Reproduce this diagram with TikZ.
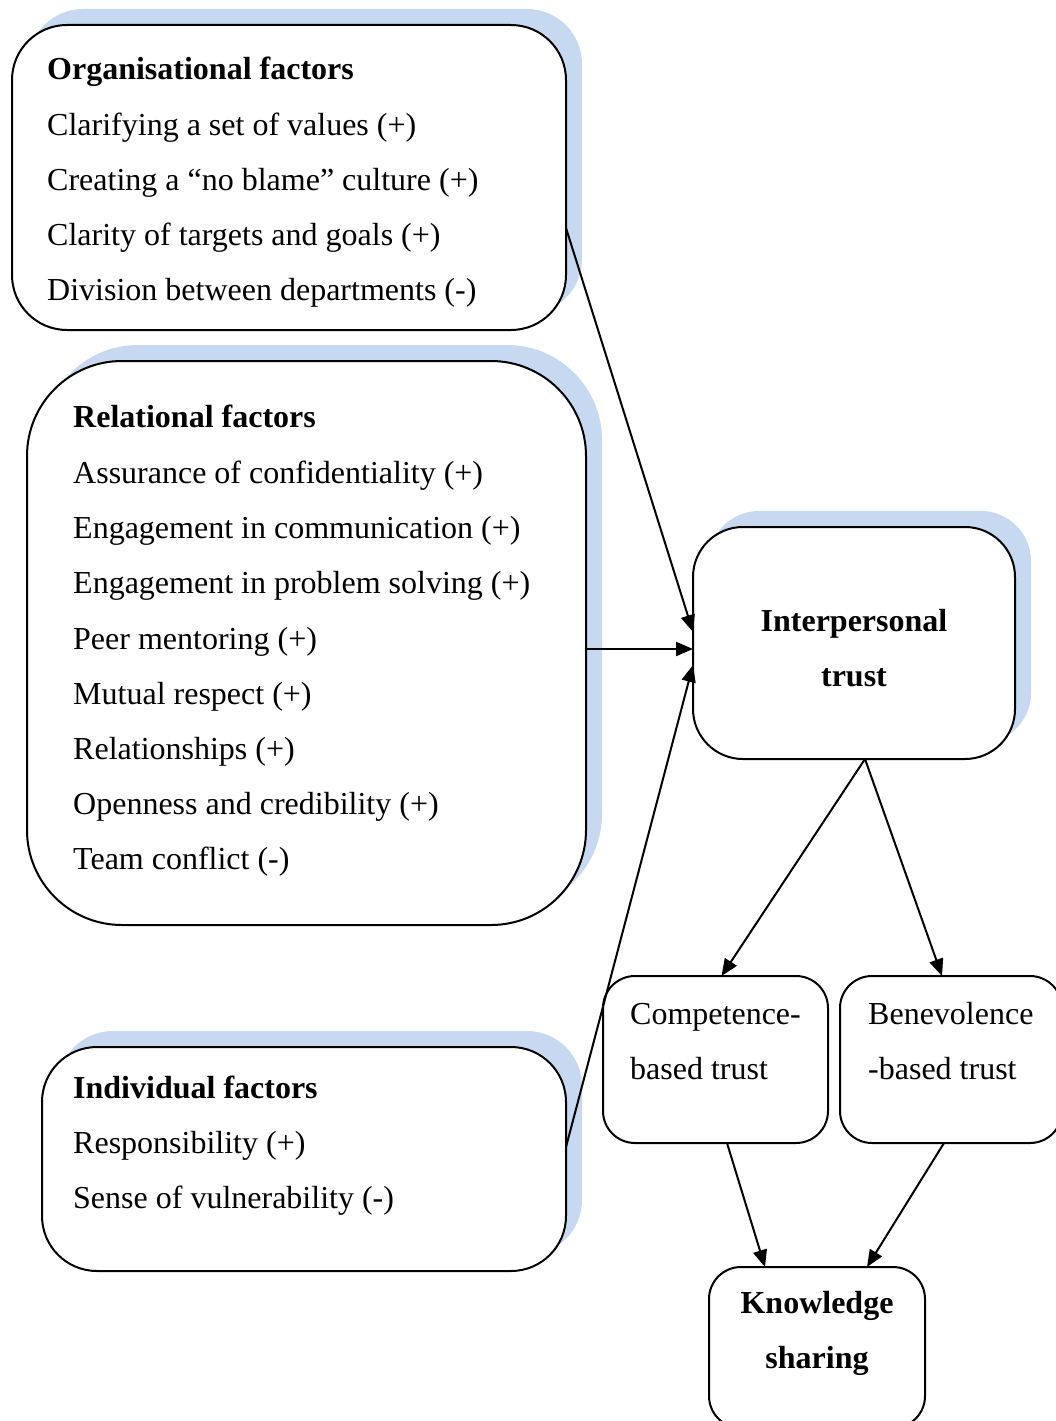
\documentclass[tikz,border=0pt]{standalone}
\usepackage{fontspec}
\setmainfont{Liberation Serif}
\usetikzlibrary{arrows.meta,backgrounds,calc}
\definecolor{shadowblue}{HTML}{C6D9F1}
\begin{document}
\begin{tikzpicture}[x=1pt,y=-1pt,
  panel/.style={draw, line width=2pt, fill=white, rectangle, inner sep=0pt, outer sep=0pt},
  txt/.style={anchor=base west, inner sep=0pt, font=\fontsize{32}{38}\selectfont},
  ctxt/.style={anchor=base, inner sep=0pt, font=\fontsize{32}{38}\selectfont\bfseries},
  link/.style={line width=2pt, -{Triangle[length=17pt,width=14pt]}},
  drop/.style={fill=shadowblue, draw=none}]
\useasboundingbox (0,0) rectangle (1056,1421);
\clip (0,0) rectangle (1056,1421);

% boxes
\node[panel, minimum width=554pt, minimum height=305pt, rounded corners=55pt] (org) at (289,177.5) {};
\node[panel, minimum width=559pt, minimum height=564pt, rounded corners=95pt] (rel) at (306.5,643) {};
\node[panel, minimum width=524pt, minimum height=224pt, rounded corners=55pt] (ind) at (304,1159) {};
\node[panel, minimum width=322pt, minimum height=232pt, rounded corners=50pt] (trust) at (854,643) {};
\node[panel, minimum width=225pt, minimum height=167pt, rounded corners=32pt] (comp) at (715.5,1059.5) {};
\node[panel, minimum width=222pt, minimum height=167pt, rounded corners=32pt] (benev) at (951,1059.5) {};
\node[panel, minimum width=216pt, minimum height=161pt, rounded corners=32pt] (know) at (817,1347.5) {};

% offset shadows behind the factor boxes and the trust box
\begin{scope}[on background layer]
  \fill[drop, rounded corners=55pt] ([shift={(16pt,16pt)}]org.south west) rectangle ([shift={(16pt,16pt)}]org.north east);
  \fill[drop, rounded corners=95pt] ([shift={(16pt,16pt)}]rel.south west) rectangle ([shift={(16pt,16pt)}]rel.north east);
  \fill[drop, rounded corners=55pt] ([shift={(16pt,16pt)}]ind.south west) rectangle ([shift={(16pt,16pt)}]ind.north east);
  \fill[drop, rounded corners=50pt] ([shift={(16pt,16pt)}]trust.south west) rectangle ([shift={(16pt,16pt)}]trust.north east);
\end{scope}

% organisational factors
\node[txt, font=\fontsize{32}{38}\selectfont\bfseries] (o0) at (47,80) {Organisational factors};
\node[txt] (o1) at (47,135) {Clarifying a set of values (+)};
\node[txt] (o2) at (47,190) {Creating a “no blame” culture (+)};
\node[txt] (o3) at (47,245) {Clarity of targets and goals (+)};
\node[txt] (o4) at (47,300) {Division between departments (-)};

% relational factors
\node[txt, font=\fontsize{32}{38}\selectfont\bfseries] (r0) at (73,427) {Relational factors};
\node[txt] (r1) at (73,483) {Assurance of confidentiality (+)};
\node[txt] (r2) at (73,538) {Engagement in communication (+)};
\node[txt] (r3) at (73,593) {Engagement in problem solving (+)};
\node[txt] (r4) at (73,649) {Peer mentoring (+)};
\node[txt] (r5) at (73,704) {Mutual respect (+)};
\node[txt] (r6) at (73,759) {Relationships (+)};
\node[txt] (r7) at (73,814) {Openness and credibility (+)};
\node[txt] (r8) at (73,869) {Team conflict (-)};

% individual factors
\node[txt, font=\fontsize{32}{38}\selectfont\bfseries] (i0) at (73,1098) {Individual factors};
\node[txt] (i1) at (73,1153) {Responsibility (+)};
\node[txt] (i2) at (73,1208) {Sense of vulnerability (-)};

% trust and outcome boxes
\node[ctxt] (t1) at (854,631) {Interpersonal};
\node[ctxt] (t2) at (854,686) {trust};
\node[txt] (c1) at (630,1024) {Competence-};
\node[txt] (c2) at (630,1079) {based trust};
\node[txt] (b1) at (868,1024) {Benevolence};
\node[txt] (b2) at (868,1079) {-based trust};
\node[ctxt] (k1) at (817,1313) {Knowledge};
\node[ctxt] (k2) at (817,1368) {sharing};

% connectors
\draw[link] ([yshift=-50.5pt]org.east) -- ([yshift=11pt]trust.west);
\draw[link] ([yshift=-6pt]rel.east) -- ([yshift=-6pt]trust.west);
\draw[link] ([yshift=12pt]ind.east) -- ([yshift=-22pt]trust.west);
\draw[link] ([xshift=11pt]trust.south) -- ([xshift=6pt]comp.north);
\draw[link] ([xshift=11pt]trust.south) -- ([xshift=-9pt]benev.north);
\draw[link] ([xshift=11.5pt]comp.south) -- ([xshift=-52pt]know.north);
\draw[link] ([xshift=-7pt]benev.south) -- ([xshift=50pt]know.north);
\end{tikzpicture}
\end{document}
